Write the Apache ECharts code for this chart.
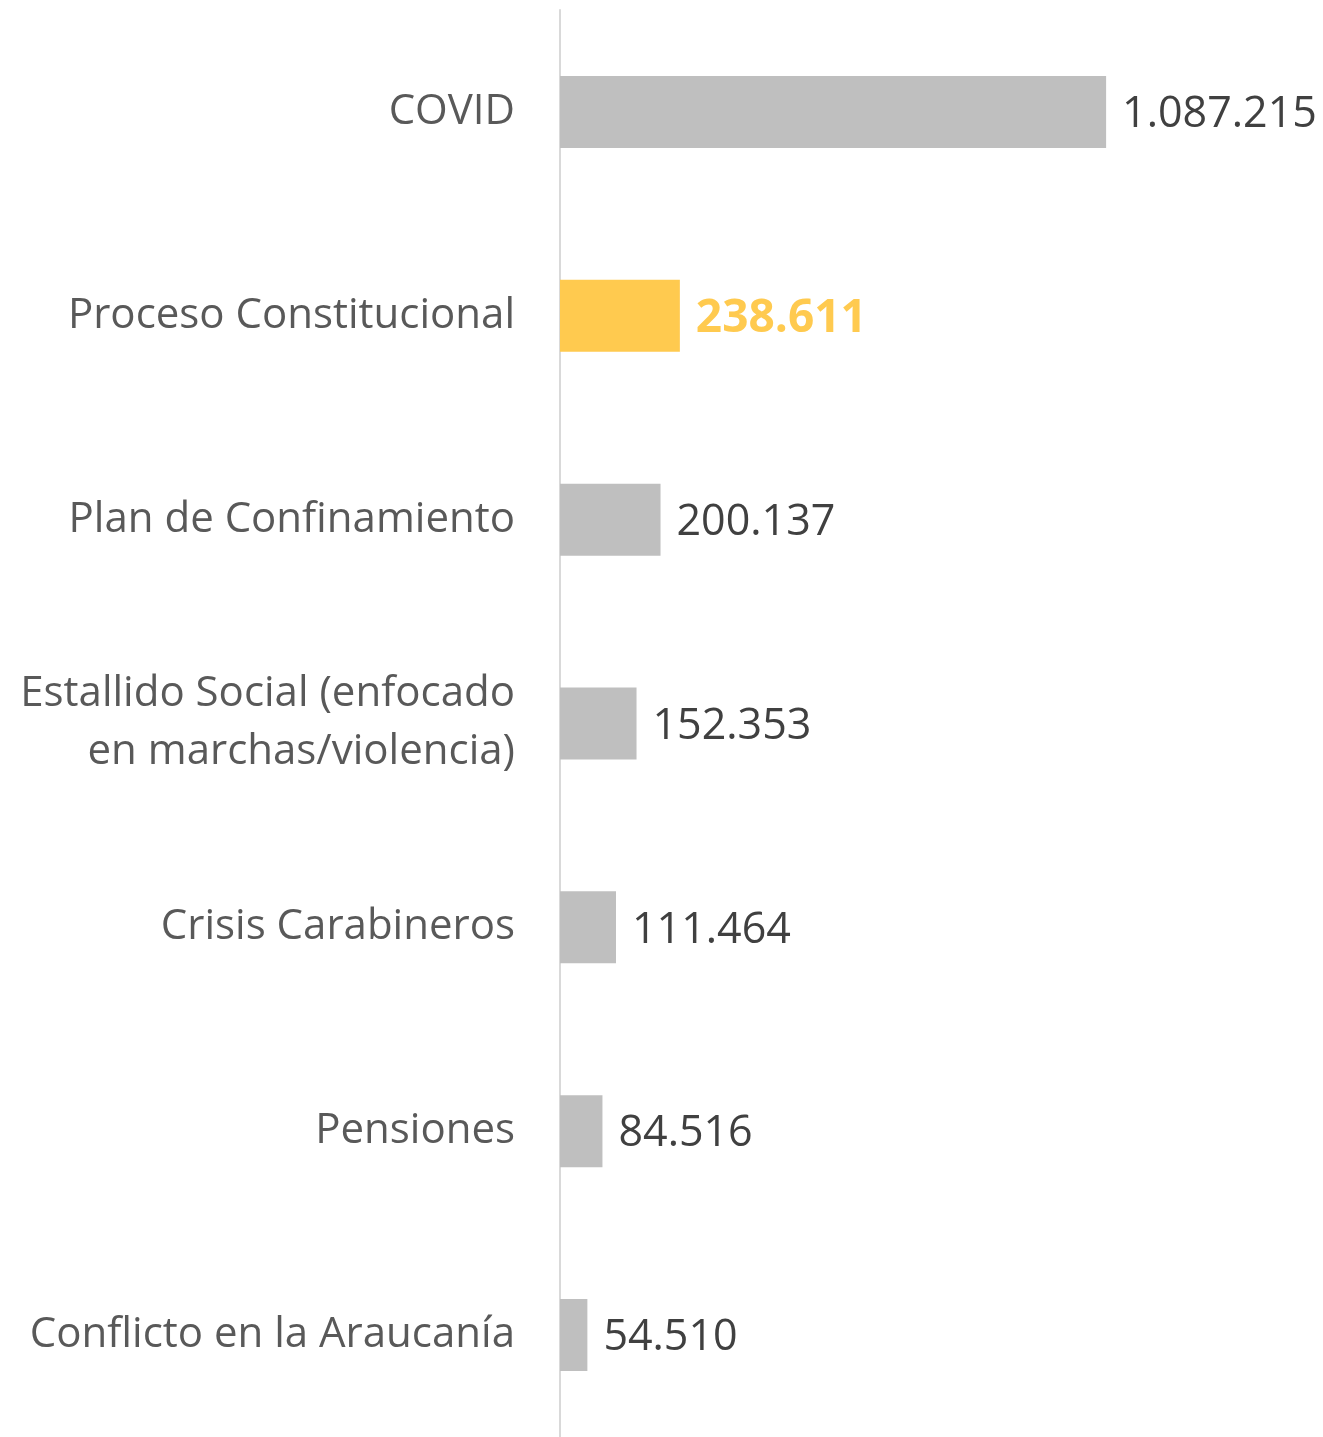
<!DOCTYPE html>
<html>
<head>
<meta charset="utf-8">
<script src="https://cdn.jsdelivr.net/npm/echarts@6/dist/echarts.min.js"></script>
<style>
  html, body { margin: 0; padding: 0; background: #fff; }
  #main { width: 1323px; height: 1437px; }
</style>
</head>
<body>
<div id="main"></div>
<script>
var categories = [
    'COVID',
    'Proceso Constitucional',
    'Plan de Confinamiento',
    'Estallido Social (enfocado\nen marchas/violencia)',
    'Crisis Carabineros',
    'Pensiones',
    'Conflicto en la Araucanía'
];
var values = [1087215, 238611, 200137, 152353, 111464, 84516, 54510];
var highlightIndex = 1;

var myChart = echarts.init(document.getElementById('main'));

// miles con punto
function fmt(v) {
    return String(v).replace(/\B(?=(\d{3})+(?!\d))/g, '.');
}

var seriesData = values.map(function (v, i) {
    if (i === highlightIndex) {
        return {
            value: v,
            itemStyle: { color: '#FFCA4F' },
            label: { color: '#FFCA4F', fontWeight: 'bold', fontSize: 46 }
        };
    }
    return v;
});

var option = {
    backgroundColor: '#fff',
    textStyle: { fontFamily: 'Open Sans' },
    grid: { left: 560, top: 10, width: 653, height: 1428 },
    xAxis: {
        type: 'value',
        min: 0,
        max: 1300000,
        show: false
    },
    yAxis: {
        type: 'category',
        inverse: true,
        data: categories,
        axisLine: { lineStyle: { color: '#D9D9D9', width: 2 } },
        axisTick: { show: false },
        axisLabel: {
            margin: 45,
            fontSize: 42,
            color: '#595959',
            align: 'right',
            lineHeight: 58,
            padding: [6, 0, 0, 0],
            fontFamily: 'Open Sans'
        }
    },
    series: [{
        type: 'bar',
        data: seriesData,
        barWidth: 72,
        itemStyle: { color: '#BFBFBF' },
        label: {
            show: true,
            position: 'right',
            distance: 16,
            offset: [0, 3],
            fontSize: 43,
            color: '#404040',
            fontFamily: 'Open Sans',
            formatter: function (p) { return fmt(p.value); }
        },
        silent: true
    }]
};

myChart.setOption(option);
</script>
</body>
</html>
